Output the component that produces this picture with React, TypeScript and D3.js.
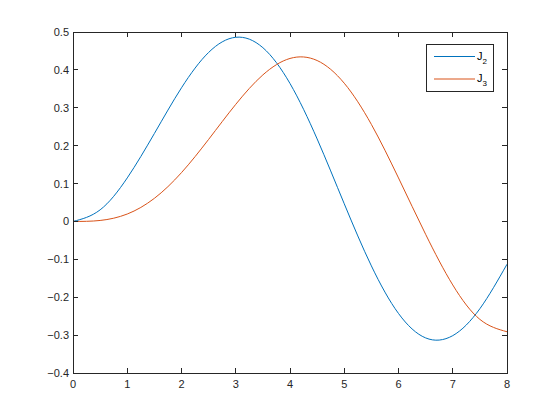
import React from "react";
import * as d3 from "d3";

const xs = [0, 0.5, 1, 1.5, 2, 2.5, 3, 3.5, 4, 4.5, 5, 5.5, 6, 6.5, 7, 7.5, 8];
const j2 = [0, 0.0306, 0.1149, 0.2321, 0.3528, 0.4461, 0.4861, 0.4586, 0.3641, 0.2178, 0.0466, -0.1173, -0.2429, -0.3074, -0.3014, -0.2303, -0.113];
const j3 = [0, 0.0026, 0.0196, 0.061, 0.1289, 0.2166, 0.3091, 0.3868, 0.4302, 0.4247, 0.3648, 0.2561, 0.1148, -0.034, -0.1676, -0.2585, -0.2911];
const xTicks = [0, 1, 2, 3, 4, 5, 6, 7, 8];
const yTicks = [-0.4, -0.3, -0.2, -0.1, 0, 0.1, 0.2, 0.3, 0.4, 0.5];
const seriesNames = ["2", "3"];
const colors = ["#0072BD", "#D95319"];

export default function App() {
  const L = 73, R = 507, T = 32, B = 373;
  const x = d3.scaleLinear().domain([0, 8]).range([L, R]);
  const y = d3.scaleLinear().domain([-0.4, 0.5]).range([B, T]);
  const line = d3.line<number>().x((_, i) => x(xs[i])).y((d) => y(d)).curve(d3.curveNatural);
  const series = [j2, j3];
  const ax = "#262626";
  const font = "'Liberation Sans', Arial, sans-serif";
  const tl = 5;
  return (
    <svg width={560} height={420} style={{ position: "absolute", left: 0, top: 0, background: "#fff" }}>
      <rect x={0} y={0} width={560} height={420} fill="#fff" />
      {series.map((s, k) => (
        <path key={k} d={line(s) || ""} fill="none" stroke={colors[k]} strokeWidth={1} />
      ))}
      <rect x={L} y={T} width={R - L} height={B - T} fill="none" stroke={ax} strokeWidth={1} shapeRendering="crispEdges" />
      {xTicks.map((t) => (
        <g key={"x" + t}>
          <line x1={x(t)} x2={x(t)} y1={B} y2={B - tl} stroke={ax} shapeRendering="crispEdges" />
          <line x1={x(t)} x2={x(t)} y1={T} y2={T + tl} stroke={ax} shapeRendering="crispEdges" />
          <text x={x(t)} y={B + 15} textAnchor="middle" fontFamily={font} fontSize={11} fill={ax}>{t}</text>
        </g>
      ))}
      {yTicks.map((t) => (
        <g key={"y" + t}>
          <line x1={L} x2={L + tl} y1={y(t)} y2={y(t)} stroke={ax} shapeRendering="crispEdges" />
          <line x1={R} x2={R - tl} y1={y(t)} y2={y(t)} stroke={ax} shapeRendering="crispEdges" />
          <text x={L - 4} y={y(t) + 4} textAnchor="end" fontFamily={font} fontSize={11} fill={ax}>{t === 0 ? "0" : d3.format(".1f")(t)}</text>
        </g>
      ))}
      <rect x={426} y={44} width={67} height={47} fill="#fff" stroke={ax} strokeWidth={1} shapeRendering="crispEdges" />
      {seriesNames.map((n, k) => {
        const ly = 56.5 + k * 22.5;
        return (
          <g key={n}>
            <line x1={434} x2={475} y1={ly} y2={ly} stroke={colors[k]} strokeWidth={1} />
            <text x={477} y={ly + 3} fontFamily={font} fontSize={11} fill="#000">
              J<tspan fontSize={8} dy={4}>{n}</tspan>
            </text>
          </g>
        );
      })}
    </svg>
  );
}
